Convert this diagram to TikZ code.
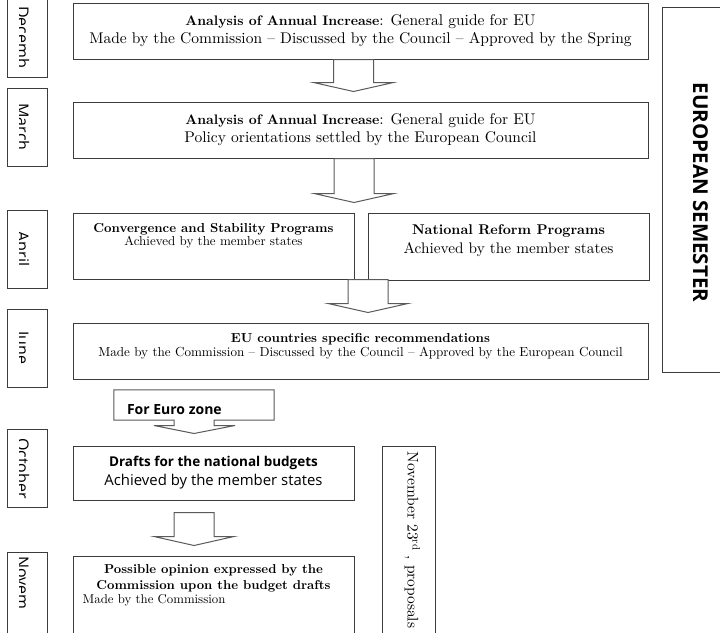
\documentclass[tikz,border=0pt]{standalone}
\usepackage{fontspec}
\setmainfont{lmroman10-regular.otf}[BoldFont=lmroman10-bold.otf,ItalicFont=lmroman10-italic.otf,BoldItalicFont=lmroman10-bolditalic.otf]
\setsansfont{Open Sans}
\usepackage{tikz}
\usetikzlibrary{calc,positioning}
\definecolor{boxline}{RGB}{60,60,60}
\definecolor{arrowline}{RGB}{90,90,90}
\tikzstyle{stagebox}=[draw=boxline,line width=1pt,rectangle,inner sep=0pt,align=center]
\tikzstyle{boxlabel}=[inner sep=0pt,align=center]
\tikzstyle{bigarrow}=[draw=arrowline,line width=1pt,fill=white,line join=miter]
\tikzset{
  monthbox/.style 2 args={draw=boxline,line width=1pt,minimum width=40pt,minimum height=78pt,inner sep=0pt,
    path picture={
      \clip ([xshift=12.5pt]path picture bounding box.south west) rectangle (path picture bounding box.north east);
      \node[rotate=-90,anchor=base,inner sep=0pt,font=\fontsize{16}{18}\sffamily] (m#1)
        at ([xshift=10pt,yshift=#2]path picture bounding box.west) {#1};
    }}
}
% hollow block arrow from the lower side of one box towards the next box
\newcommand{\blockarrow}[4]{%
  \draw[bigarrow] let \p1=(#1.south), \p2=(#2.north) in
    (#3pt-20pt,\y1-#4pt) -- (#3pt-20pt,\y2+19pt) -- (#3pt-40pt,\y2+19pt) -- (#3pt,\y2+10pt)
    -- (#3pt+40pt,\y2+19pt) -- (#3pt+20pt,\y2+19pt) -- (#3pt+20pt,\y1-#4pt) -- cycle;}

\begin{document}
\begin{tikzpicture}[x=1pt,y=-1pt]
\useasboundingbox (0,0) rectangle (720,632);
\clip (0,0) rectangle (720,632);

% months
\node[monthbox={Decemb}{0pt},minimum height=80pt] (dec) at (27,37) {};
\node[monthbox={March}{0pt}] (mar) at (27,127) {};
\node[monthbox={April}{0pt}] (apr) at (27,249) {};
\node[monthbox={June}{0pt}] (jun) at (27,348) {};
\node[monthbox={October}{0pt}] (oct) at (27,468.5) {};
\node[monthbox={Novem}{14pt},minimum height=90pt] (nov) at (27,597) {};

% stages
\node[stagebox,minimum width=575pt,minimum height=56pt,font=\fontsize{15.5}{18}\selectfont] (inc1) at (360.5,31)
  {{\fontsize{13.8}{18}\selectfont\bfseries Analysis of Annual Increase}: General guide for EU\\Made by the Commission -- Discussed by the Council -- Approved by the Spring};
\node[stagebox,minimum width=575pt,minimum height=56pt,font=\fontsize{15.5}{18}\selectfont] (inc2) at (360.5,130)
  {{\fontsize{13.8}{18}\selectfont\bfseries Analysis of Annual Increase}: General guide for EU\\Policy orientations settled by the European Council};

\node[stagebox,minimum width=281pt,minimum height=66pt] (conv) at (213.5,246) {};
\node[stagebox,minimum width=281pt,minimum height=67pt] (nat) at (508.5,246.5) {};
\node[boxlabel,font=\fontsize{13}{13}\selectfont,below=11pt of conv.north] (convtxt)
  {\textbf{Convergence and Stability Programs}\\Achieved by the member states};
\node[boxlabel,font=\fontsize{15.3}{19}\selectfont,below=12pt of nat.north] (nattxt)
  {{\fontsize{14.1}{19}\selectfont\bfseries National Reform Programs}\\Achieved by the member states};

\node[stagebox,minimum width=575pt,minimum height=56pt] (rec) at (360.5,351) {};
\node[boxlabel,font=\fontsize{13.1}{14}\selectfont,below=11pt of rec.north] (rectxt)
  {\textbf{EU countries specific recommendations}\\Made by the Commission -- Discussed by the Council -- Approved by the European Council};

\node[stagebox,minimum width=281pt,minimum height=54pt,font=\fontsize{14.9}{19}\sffamily] (drafts) at (213.5,473)
  {{\fontsize{13.5}{19}\selectfont\bfseries Drafts for the national budgets}\\Achieved by the member states};

\node[stagebox,minimum width=281pt,minimum height=90pt] (poss) at (213.5,601) {};
\node[boxlabel,font=\fontsize{12.9}{16}\selectfont\bfseries,below=9pt of poss.north] (posstxt)
  {Possible opinion expressed by the\\Commission upon the budget drafts};
\node[boxlabel,font=\fontsize{12.8}{14}\selectfont,anchor=base west] (possmade)
  at ([xshift=10pt,yshift=-48pt]poss.north west) {Made by the Commission};

% side boxes
\node[stagebox,minimum width=63pt,minimum height=365pt] (sem) at (693.5,189.5) {};
\node[font=\fontsize{20.5}{24}\sffamily\bfseries,rotate=-90,inner sep=0pt] (semtxt)
  at ([xshift=7pt,yshift=-3pt]sem.center) {EUROPEAN SEMESTER};

\node[stagebox,minimum width=53pt,minimum height=194pt] (prop) at (408.5,543) {};
\node[font=\fontsize{15.4}{18}\selectfont,rotate=-90,anchor=base west,inner sep=0pt] (proptxt)
  at ([xshift=26pt,yshift=-6pt]prop.north west) {November 23\textsuperscript{rd} , proposals};

% arrows
\blockarrow{inc1}{inc2}{353.5}{0}
\blockarrow{inc2}{conv}{354}{0}
\blockarrow{conv}{rec}{368}{0}
\blockarrow{drafts}{poss}{194}{12}

\node[minimum width=160pt,minimum height=30pt,inner sep=0pt] (euro) at (194,405) {};
\draw[bigarrow] let \p1=(euro.south), \p2=(drafts.north) in
  (euro.north west) -- (euro.north east) -- (euro.south east) -- (\x1+20pt,\y1) -- (\x1+20pt,\y2+20pt)
  -- (\x1+41pt,\y2+20pt) -- (\x1,\y2+12pt) -- (\x1-40pt,\y2+20pt) -- (\x1-20pt,\y2+20pt) -- (\x1-20pt,\y1)
  -- (euro.south west) -- cycle;
\node[font=\fontsize{14}{16}\sffamily\bfseries,anchor=base west,inner sep=0pt] (eurotxt)
  at ([xshift=13pt,yshift=6pt]euro.south west) {For Euro zone};
\end{tikzpicture}
\end{document}
